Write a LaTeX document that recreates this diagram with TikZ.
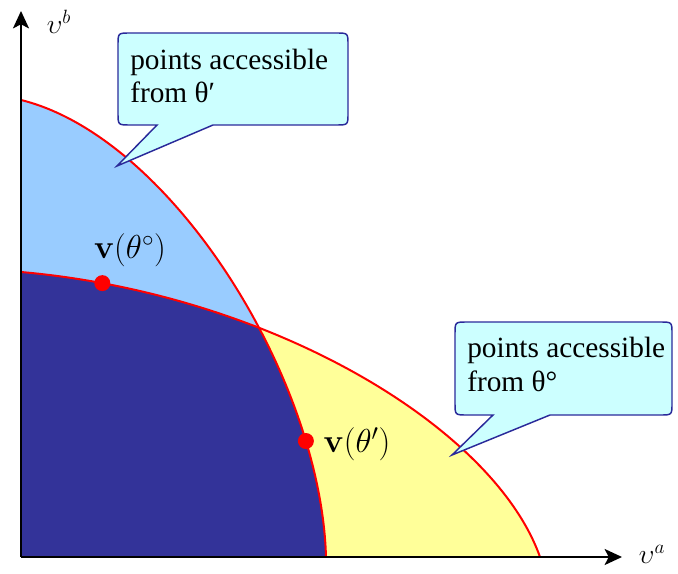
\documentclass[tikz,border=0pt]{standalone}
\usepackage[no-math]{fontspec}
\newfontfamily\calloutfont{Liberation Serif}
\usetikzlibrary{arrows.meta}
\definecolor{lightblu}{HTML}{99CCFF}
\definecolor{darkblu}{HTML}{333399}
\definecolor{yelo}{HTML}{FFFF99}
\definecolor{calloutfill}{HTML}{CCFFFF}
\definecolor{calloutline}{HTML}{2A2A9A}
\tikzset{
  frontier/.style={draw=red, line width=1.5pt},
  axisline/.style={draw=black, line width=1.4pt, -{Stealth[length=13pt,width=12pt,inset=3pt]}},
  calloutbox/.style={fill=calloutfill, draw=calloutline, line width=1.1pt},
  callouttext/.style={font=\calloutfont\fontsize{22}{25}\selectfont, inner sep=0pt, anchor=base west},
  mathlabel/.style={font=\fontsize{25}{29}\selectfont, inner sep=0pt},
  axislabel/.style={font=\fontsize{21}{25}\selectfont, inner sep=0pt},
  reddot/.style={circle, fill=red, minimum size=12pt, inner sep=0pt}
}
\begin{document}
\begin{tikzpicture}[x=0.75pt,y=-0.75pt]
\useasboundingbox (0,0) rectangle (678,574);
% regions
\fill[lightblu] (21,557) -- (21,100) .. controls (171,137) and (321,377) .. (326,557) -- cycle;
\fill[yelo] (21,557) -- (21,272) .. controls (271,294) and (494,427) .. (540,557) -- cycle;
\begin{scope}
  \clip (21,557) -- (21,100) .. controls (171,137) and (321,377) .. (326,557) -- cycle;
  \fill[darkblu] (21,557) -- (21,272) .. controls (271,294) and (494,427) .. (540,557) -- cycle;
\end{scope}
% frontiers
\draw[frontier] (21,100) .. controls (171,137) and (321,377) .. (326,557)
  node[reddot, pos=0.795] (d2) {};
\draw[frontier] (21,272) .. controls (271,294) and (494,427) .. (540,557)
  node[reddot, pos=0.11] (d1) {};
% axes
\coordinate (o) at (21,557);
\coordinate (ytip) at (21,11);
\coordinate (xtip) at (622,557);
\draw[axisline] (o) -- (ytip);
\draw[axisline] (o) -- (xtip);
\node[axislabel] (lb) at (59,22) {$\upsilon^b$};
\node[axislabel] (la) at (652,554) {$\upsilon^a$};
% labels
\node[mathlabel] (v1) at (130,250) {$\mathbf{v}(\theta^\circ)$};
\node[mathlabel] (v2) at (357,444) {$\mathbf{v}(\theta')$};
% upper callout
\draw[calloutbox] (157,125) -- (117,166) -- (213,125) -- (336,125) .. controls (348,125) .. (348,113)
  -- (348,45) .. controls (348,33) .. (336,33) -- (130,33) .. controls (118,33) .. (118,45)
  -- (118,113) .. controls (118,125) .. (130,125) -- cycle;
\node[callouttext] (c1a) at (130,70) {points accessible};
\node[callouttext] (c1b) at (130,103) {from θ′};
% lower callout
\draw[calloutbox] (493,415) -- (452,455) -- (550,415) -- (660,415) .. controls (672,415) .. (672,403)
  -- (672,334) .. controls (672,322) .. (660,322) -- (467,322) .. controls (455,322) .. (455,334)
  -- (455,403) .. controls (455,415) .. (467,415) -- cycle;
\node[callouttext] (c2a) at (467,357) {points accessible};
\node[callouttext] (c2b) at (467,391) {from θ°};
\end{tikzpicture}
\end{document}
